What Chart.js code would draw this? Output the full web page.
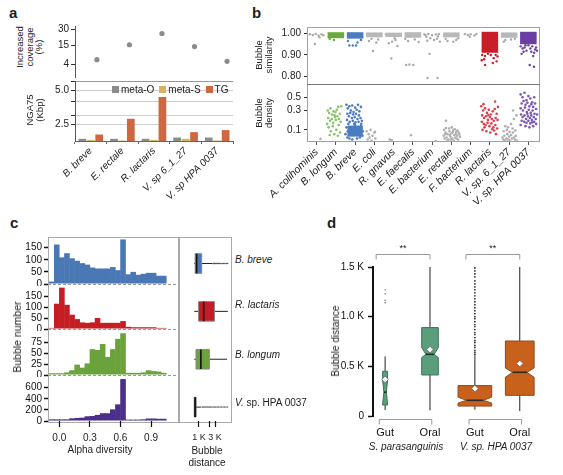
<!DOCTYPE html>
<html>
<head>
<meta charset="utf-8">
<title>Bubble statistics</title>
<script src="https://cdn.jsdelivr.net/npm/chart.js@4.4.1/dist/chart.umd.min.js"></script>
<style>
  body { margin: 0; background: #fff; }
  #fig { position: relative; width: 563px; height: 475px; overflow: hidden;
         font-family: "Liberation Sans", Arial, Helvetica, sans-serif; color: #222; }
  .t { position: absolute; z-index: 2; white-space: nowrap; font-size: 10px; line-height: 10px;
       text-align: center; transform: translate(-50%, -50%); }
  .v { transform: translate(-50%, -50%) rotate(-90deg); }
  .l { transform: translate(0, -50%); text-align: left; }
  .panel { position: absolute; font-weight: bold; font-size: 15px; line-height: 16px; }
  .frame { position: absolute; box-sizing: border-box; border: 1px solid #a0a0a0; }
  .legend { position: absolute; z-index: 2; left: 112px; top: 84px; display: flex; gap: 5px;
            font-size: 10px; line-height: 11px; }
  .legend span { display: flex; align-items: center; gap: 2px; }
  .legend i { display: inline-block; width: 7px; height: 7px; }
</style>
</head>
<body>
<div id="fig">
  <div class="panel" style="left:9px;top:5px">a</div>
  <div class="panel" style="left:252px;top:5px">b</div>
  <div class="panel" style="left:10px;top:215px">c</div>
  <div class="panel" style="left:327px;top:215px">d</div>

  <!-- a -->
  <div class="t v" style="left:29px;top:47px;line-height:9.5px;font-size:9.5px">Increased<br>coverage<br>(%)</div>
  <div class="t v" style="left:34px;top:110px;line-height:9.5px;font-size:9.5px">NGA75<br>(Kbp)</div>
  <div class="legend">
    <span><i style="background:#8c8c8c"></i>meta-O</span>
    <span><i style="background:#d6b45e"></i>meta-S</span>
    <span><i style="background:#cd6842"></i>TG</span>
  </div>

  <!-- b -->
  <div class="frame" style="left:307px;top:27px;width:233px;height:115px"></div>
  <div style="position:absolute;left:307px;top:84px;width:233px;height:1px;background:#777"></div>
  <div class="t v" style="left:263px;top:55px;line-height:9.5px;font-size:9.5px">Bubble<br>similarity</div>
  <div class="t v" style="left:263px;top:113px;line-height:9.5px;font-size:9.5px">Bubble<br>density</div>

  <!-- c -->
  <div class="frame" style="left:48px;top:237px;width:184px;height:186px;border-color:#aaa"></div>
  <div style="position:absolute;left:178px;top:237px;width:2px;height:186px;background:#aaa"></div>
  <div class="t v" style="left:17px;top:337px;font-size:10.5px">Bubble number</div>
  <div class="t" style="left:100px;top:450px">Alpha diversity</div>
  <div class="t" style="left:207px;top:456px;line-height:11.5px">Bubble<br>distance</div>
  <div class="t l" style="left:235px;top:260px"><i>B. breve</i></div>
  <div class="t l" style="left:235px;top:305px"><i>R. lactaris</i></div>
  <div class="t l" style="left:235px;top:355px"><i>B. longum</i></div>
  <div class="t l" style="left:235px;top:403px"><i>V.</i> sp. HPA 0037</div>

  <!-- d -->
  <div class="t v" style="left:336px;top:341px">Bubble distance</div>
  <div class="t" style="left:406px;top:447px"><i>S. parasanguinis</i></div>
  <div class="t" style="left:496px;top:447px"><i>V. sp. HPA 0037</i></div>
</div>

<script>
// ---------- panel a ----------
const speciesA = ['B. breve', 'E. rectale', 'R. lactaris', 'V. sp 6_1_27', 'V. sp HPA 0037'];
const coverage = [6.0, 15.6, 25.8, 14.2, 5.2];
const coverageTicks = [4, 15, 30];
const ngaMetaO = [1.88, 1.88, 1.88, 1.93, 1.93];
const ngaMetaS = [1.84, 1.82, 1.84, 1.88, 1.82];
const ngaTG = [2.05, 2.81, 4.35, 2.15, 2.24];
const ngaGrid = [2.5, 3, 4, 5, 6];
const ngaTickText = ['2.5', '', '', '5.0', ''];

// ---------- panel b ----------
const speciesB = ['A. colihominis', 'B. longum', 'B. breve', 'E. coli', 'R. gnavus', 'E. faecalis',
  'E. bacterium', 'E. rectale', 'F. bacterium', 'R. lactaris', 'V. sp. 6_1_27', 'V. sp. HPA 0037'];
const simTicks = [0.8, 0.9, 1.0];
const densTicks = [0.1, 0.3, 0.5];
// dense core of each similarity cloud
const simCoreLo = [null, 0.978, 0.976, 0.982, 0.984, 0.98, null, 0.982, null, 0.91, 0.98, 0.95];
const simCoreHi = [null, 1.006, 1.006, 1.005, 1.004, 1.006, null, 1.005, null, 1.008, 1.005, 1.008];
const simPoints = [
  [-0.35, 0.997], [-0.2, 0.993], [-0.05, 0.998], [0.1, 0.99], [0.25, 0.996], [0.35, 0.992], [-0.09, 0.951], [0.15, 0.982],
  [0.68, 0.975], [0.9, 0.97],
  [1.63, 0.965], [1.7, 0.944], [1.88, 0.944], [2.05, 0.944], [2.12, 0.958], [2.3, 0.97],
  [2.65, 0.998], [2.75, 0.992], [3.3, 0.99], [3.35, 0.998], [2.72, 0.965], [3.1, 0.958], [2.93, 0.918], [2.85, 0.975], [3.2, 0.972],
  [3.6, 0.997], [4.35, 0.993], [4.1, 0.97], [3.75, 0.955], [3.92, 0.962], [4.2, 0.942], [3.88, 0.883], [4.05, 0.978],
  [4.65, 0.853], [4.82, 0.855], [5.02, 0.853], [4.75, 0.965], [5.3, 0.96], [5.1, 0.972], [4.6, 0.975],
  [5.6, 0.996], [5.7, 0.985], [5.8, 0.998], [5.9, 0.978], [6.0, 0.992], [6.1, 0.97], [6.2, 0.996], [6.3, 0.986],
  [6.4, 0.962], [5.75, 0.966], [6.25, 0.975], [5.86, 0.905], [5.76, 0.792], [6.28, 0.792], [6.35, 0.998], [5.65, 0.993],
  [6.7, 0.975], [6.8, 0.965], [7.1, 0.962], [7.25, 0.97], [7.35, 0.978],
  [7.7, 0.998], [7.85, 0.993], [8.0, 0.997], [8.2, 0.991], [8.3, 0.998], [7.95, 0.985],
  [8.6, 0.9], [8.75, 0.895], [9.3, 0.9], [9.4, 0.893], [8.7, 0.88], [9.2, 0.885], [8.58, 0.875], [9.35, 0.87],
  [8.9, 0.905], [9.05, 0.9], [8.75, 0.853], [9.15, 0.862],
  [9.8, 0.97], [10.1, 0.972], [9.72, 0.962], [10.3, 0.975],
  [10.6, 0.94], [10.7, 0.93], [10.8, 0.935], [10.9, 0.92], [11.0, 0.945], [11.1, 0.93], [11.2, 0.94], [11.35, 0.925],
  [11.4, 0.935], [10.75, 0.915], [11.3, 0.91], [10.65, 0.905], [11.45, 0.92], [11.25, 0.895], [11.07, 0.853],
  [11.29, 0.845], [10.85, 0.945], [11.15, 0.915]
];
const densCoreLo = [null, null, 0.055, null, null, null, null, null, null, null, null, null];
const densCoreHi = [null, null, 0.135, null, null, null, null, null, null, null, null, null];
const densPoints = [
  [0.2, 0.043],
  [0.58, 0.30], [0.65, 0.27], [0.72, 0.33], [0.80, 0.25], [0.88, 0.29], [0.95, 0.22], [1.05, 0.31], [1.12, 0.35],
  [1.2, 0.26], [1.28, 0.36], [0.6, 0.21], [0.7, 0.18], [0.78, 0.2], [0.86, 0.16], [0.93, 0.24], [1.0, 0.19],
  [1.08, 0.23], [1.16, 0.2], [1.25, 0.17], [0.62, 0.12], [0.74, 0.09], [0.84, 0.13], [0.92, 0.07], [1.02, 0.1],
  [1.1, 0.06], [1.22, 0.08], [0.68, 0.065], [1.15, 0.14], [0.98, 0.28], [0.55, 0.15],
  [1.55, 0.38], [1.62, 0.33], [1.7, 0.36], [1.78, 0.3], [1.85, 0.37], [1.92, 0.28], [2.0, 0.34], [2.08, 0.31],
  [2.15, 0.38], [2.22, 0.29], [2.3, 0.35], [1.6, 0.26], [1.68, 0.23], [1.75, 0.27], [1.83, 0.21], [1.9, 0.25],
  [1.98, 0.22], [2.05, 0.26], [2.12, 0.2], [2.2, 0.24], [2.28, 0.21], [2.35, 0.18], [1.58, 0.19], [1.72, 0.17],
  [1.88, 0.18], [2.02, 0.165], [2.18, 0.17], [2.32, 0.15], [1.65, 0.15], [1.95, 0.15],
  [1.55, 0.12], [1.6, 0.05], [2.4, 0.09], [2.38, 0.06], [1.7, 0.045], [2.1, 0.045], [2.25, 0.05], [1.85, 0.04],
  [2.0, 0.14], [2.3, 0.13], [1.62, 0.09], [1.5, 0.07],
  [2.6, 0.09], [2.7, 0.07], [2.8, 0.1], [2.75, 0.05], [2.9, 0.06], [3.0, 0.08], [3.05, 0.045], [2.65, 0.04],
  [2.85, 0.035], [3.03, 0.085],
  [3.8, 0.04], [3.85, 0.033], [3.9, 0.036], [4.9, 0.063], [6.2, 0.033],
  [6.6, 0.06], [6.65, 0.045], [6.7, 0.08], [6.75, 0.05], [6.8, 0.07], [6.85, 0.04], [6.9, 0.09], [6.95, 0.055],
  [7.0, 0.075], [7.05, 0.045], [7.1, 0.1], [7.15, 0.065], [7.2, 0.05], [7.25, 0.085], [7.3, 0.06], [7.35, 0.04],
  [7.4, 0.07], [7.45, 0.055], [6.62, 0.1], [6.72, 0.115], [6.88, 0.11], [7.02, 0.12], [7.18, 0.105], [7.32, 0.095],
  [6.72, 0.18], [6.78, 0.035], [7.12, 0.035], [6.98, 0.04], [7.28, 0.045], [6.92, 0.065], [7.08, 0.085],
  [7.22, 0.07], [6.68, 0.07], [7.38, 0.08],
  [8.55, 0.36], [8.65, 0.3], [8.75, 0.33], [8.85, 0.27], [8.95, 0.31], [9.05, 0.25], [9.15, 0.29], [9.25, 0.32],
  [9.35, 0.26], [9.42, 0.35], [8.6, 0.24], [8.7, 0.21], [8.8, 0.23], [8.9, 0.19], [9.0, 0.22], [9.1, 0.2],
  [9.2, 0.18], [9.3, 0.21], [9.4, 0.19], [8.58, 0.17], [8.68, 0.15], [8.78, 0.14], [8.88, 0.16], [8.98, 0.13],
  [9.08, 0.155], [9.18, 0.12], [9.28, 0.14], [9.38, 0.11], [8.62, 0.1], [8.82, 0.09], [9.02, 0.08], [9.22, 0.095],
  [9.32, 0.07], [8.72, 0.12], [9.12, 0.105], [8.92, 0.245], [8.67, 0.39], [9.27, 0.43],
  [9.65, 0.05], [9.7, 0.04], [9.75, 0.06], [9.8, 0.035], [9.85, 0.045], [9.9, 0.07], [9.95, 0.04], [10.0, 0.055],
  [10.05, 0.035], [10.1, 0.065], [10.15, 0.045], [10.2, 0.08], [10.25, 0.05], [10.3, 0.04], [10.35, 0.06],
  [10.4, 0.035], [9.72, 0.09], [9.88, 0.1], [10.02, 0.085], [10.18, 0.11], [10.32, 0.095], [9.8, 0.13],
  [10.1, 0.15], [10.25, 0.2], [10.38, 0.24], [10.2, 0.3], [9.95, 0.12],
  [10.6, 0.55], [10.7, 0.5], [10.8, 0.58], [10.9, 0.45], [11.0, 0.52], [11.1, 0.48], [11.2, 0.42], [11.3, 0.5],
  [10.65, 0.4], [10.75, 0.44], [10.85, 0.38], [10.95, 0.41], [11.05, 0.36], [11.15, 0.39], [11.25, 0.35],
  [11.35, 0.4], [10.6, 0.33], [10.72, 0.3], [10.82, 0.34], [10.92, 0.28], [11.02, 0.31], [11.12, 0.27],
  [11.22, 0.3], [11.32, 0.26], [11.4, 0.32], [10.62, 0.25], [10.7, 0.22], [10.8, 0.24], [10.88, 0.2],
  [10.98, 0.23], [11.08, 0.21], [11.18, 0.19], [11.28, 0.22], [11.38, 0.2], [10.65, 0.18], [10.78, 0.17],
  [10.9, 0.16], [11.0, 0.18], [11.1, 0.155], [11.2, 0.165], [11.3, 0.17], [11.4, 0.15], [10.85, 0.13],
  [11.05, 0.12], [11.25, 0.13], [10.6, 0.14], [11.45, 0.25], [10.95, 0.26], [11.15, 0.24]
];

// ---------- panel c ----------
const binCenters = [-0.075, -0.025, 0.025, 0.075, 0.125, 0.175, 0.225, 0.275, 0.325, 0.375, 0.425, 0.475,
  0.525, 0.575, 0.625, 0.675, 0.725, 0.775, 0.825, 0.875, 0.925, 0.975, 1.025];
const histBreve = [10, 163, 110, 127, 106, 96, 86, 80, 68, 64, 64, 64, 70, 57, 184, 40, 50, 38, 42, 46, 46, 34, 34];
const histLactaris = [5, 115, 188, 110, 65, 45, 30, 28, 30, 50, 28, 28, 28, 28, 36, 10, 8, 8, 8, 8, 8, 5, 5];
const histLongum = [4, 4, 4, 6, 11, 24, 17, 27, 60, 58, 72, 42, 60, 84, 97, 5, 5, 5, 6, 11, 9, 8, 5];
const histHpa = [30, 30, 30, 30, 48, 55, 60, 85, 90, 110, 140, 140, 210, 300, 755, 25, 25, 25, 30, 45, 45, 40, 40];
const alphaTicks = [0, 0.3, 0.6, 0.9];
const distTicks = [1000, 2000, 3000];
const distTickText = ['1 K', '', '3 K'];
const cRows = [0, 1, 2, 3]; // B. breve, R. lactaris, B. longum, V. sp. HPA 0037
const cLo = [732, 732, 732, 720];
const cQ1 = [775, 977, 822, 732];
const cMed = [855, 1383, 1142, 775];
const cQ3 = [1210, 2880, 2037, 822];
const cHi = [2470, 7140, 6740, 1150];
const cOutBreve = [2600, 2750, 2900, 3100, 3300, 3550, 3800, 4100, 4450, 4850, 5300, 5800, 6400, 7000];
const cOutHpa = [1250, 1330, 1420, 1520, 1630, 1750, 1880, 2030, 2200, 2400, 2620, 2870, 3150, 3460, 3800,
  4200, 4650, 5150, 5700, 6300, 7000];

// ---------- panel d ----------
const dTicks = ['Gut', 'Oral', 'Gut', 'Oral'];
const dPos = [0, 1, 2, 3];
const dLo = [0.06, 0.057, 0.064, 0.05];
const dQ1 = [0.11, 0.413, 0.10, 0.208];
const dMed = [0.24, 0.621, 0.158, 0.44];
const dQ3 = [0.45, 0.89, 0.306, 0.755];
const dHi = [0.60, 1.50, 0.61, 1.50];
const dNotchLo = [0.12, 0.588, 0.13, 0.39];
const dNotchHi = [0.36, 0.689, 0.19, 0.483];
const dMean = [0.367, 0.669, 0.276, 0.528];
const dOutSGut = [1.14, 1.165, 1.23, 1.27];
const dOutVGut = [0.62, 0.64, 0.66, 0.69, 0.71, 0.74, 0.76, 0.79, 0.82, 0.84, 0.87, 0.9, 0.92, 0.95, 0.98, 1.0,
  1.03, 1.06, 1.09, 1.12, 1.15, 1.18, 1.21, 1.24, 1.27, 1.3, 1.33, 1.36, 1.4, 1.43, 1.46, 1.49];

// ---------- colours ----------
const gray = '#a8a8a8';
const coreGray = '#b8b8b8';
const simColors = [gray, '#6aaa3a', '#4a7cbf', gray, gray, gray, gray, gray, gray, '#c81e28', gray, '#6a3fa3'];
const coreColors = [coreGray, '#6aaa3a', '#4a7cbf', coreGray, coreGray, coreGray, coreGray, coreGray, coreGray,
  '#c81e28', coreGray, '#6a3fa3'];
const densColors = ['#b0b0b0', '#8cc06c', '#4a7cbf', '#b0b0b0', '#b0b0b0', '#b0b0b0', '#b0b0b0', '#b0b0b0',
  '#b0b0b0', '#d9424c', '#b0b0b0', '#7a58b6'];
const cColors = ['#4a78b5', '#c41e24', '#6aa33c', '#4b2f8a'];

Chart.defaults.font.family = '"Liberation Sans", Arial, Helvetica, sans-serif';
Chart.defaults.font.size = 10;
Chart.defaults.color = '#222';

// square-root scale (used for coverage and bubble density)
const LinearScale = Chart.registry.getScale('linear');
class SqrtScale extends LinearScale {
  getPixelForValue(v) {
    const a = Math.sqrt(this.min), b = Math.sqrt(this.max);
    return this.getPixelForDecimal((Math.sqrt(v) - a) / (b - a));
  }
  getValueForPixel(p) {
    const a = Math.sqrt(this.min), b = Math.sqrt(this.max);
    const s = a + this.getDecimalForPixel(p) * (b - a);
    return s * s;
  }
}
SqrtScale.id = 'sqrt';
SqrtScale.defaults = LinearScale.defaults;

// box plots drawn through the chart scales
const boxPlugin = {
  id: 'boxes',
  beforeDatasetsDraw(chart, args, o) {
    if (!o.pos) return;
    const { ctx, scales } = chart;
    const vs = o.horizontal ? scales.x : scales.y;
    const ps = o.horizontal ? scales.y : scales.x;
    const pt = (p, v) => o.horizontal
      ? [vs.getPixelForValue(v), ps.getPixelForValue(p)]
      : [ps.getPixelForValue(p), vs.getPixelForValue(v)];
    const path = pts => {
      ctx.beginPath();
      pts.forEach(([p, v], k) => { const [px, py] = pt(p, v); k ? ctx.lineTo(px, py) : ctx.moveTo(px, py); });
    };
    ctx.save();
    o.pos.forEach((p, i) => {
      const hw = o.widths[i] / 2;
      const nw = o.notchLo ? hw * o.notchRatio : hw;
      ctx.strokeStyle = o.whisker; ctx.lineWidth = 1;
      path([[p, o.lo[i]], [p, o.q1[i]]]); ctx.stroke();
      path([[p, o.q3[i]], [p, o.hi[i]]]); ctx.stroke();
      const outline = o.notchLo
        ? [[p - hw, o.q1[i]], [p - hw, o.notchLo[i]], [p - nw, o.med[i]], [p - hw, o.notchHi[i]], [p - hw, o.q3[i]],
           [p + hw, o.q3[i]], [p + hw, o.notchHi[i]], [p + nw, o.med[i]], [p + hw, o.notchLo[i]], [p + hw, o.q1[i]]]
        : [[p - hw, o.q1[i]], [p - hw, o.q3[i]], [p + hw, o.q3[i]], [p + hw, o.q1[i]]];
      path(outline); ctx.closePath();
      ctx.fillStyle = o.fill[i]; ctx.fill();
      ctx.strokeStyle = o.stroke[i]; ctx.lineWidth = 1; ctx.stroke();
      ctx.strokeStyle = o.median; ctx.lineWidth = 1.6;
      path([[p - nw, o.med[i]], [p + nw, o.med[i]]]); ctx.stroke();
    });
    ctx.restore();
  }
};

// dashed separator under a histogram
const dashPlugin = {
  id: 'baseDash',
  afterDatasetsDraw(chart, args, o) {
    if (!o.color) return;
    const { ctx, chartArea: a } = chart;
    ctx.save();
    ctx.strokeStyle = o.color; ctx.lineWidth = 1; ctx.setLineDash([3, 2]);
    ctx.beginPath(); ctx.moveTo(a.left, a.bottom + 0.5); ctx.lineTo(a.right, a.bottom + 0.5); ctx.stroke();
    ctx.restore();
  }
};

// group brackets + significance stars
const bracketPlugin = {
  id: 'brackets',
  afterDraw(chart, args, o) {
    if (!o.pairs) return;
    const { ctx, chartArea: area, scales: { x } } = chart;
    ctx.save();
    ctx.strokeStyle = o.color; ctx.lineWidth = 1;
    ctx.fillStyle = '#222'; ctx.font = '9px "Liberation Sans", Arial, sans-serif';
    ctx.textAlign = 'center'; ctx.textBaseline = 'middle';
    o.pairs.forEach(([a, b], k) => {
      let x0 = x.getPixelForValue(a - 0.2), x1 = x.getPixelForValue(b);
      const yt = area.top - 12.5;
      ctx.beginPath(); ctx.moveTo(x0, yt + 5); ctx.lineTo(x0, yt); ctx.lineTo(x1, yt); ctx.lineTo(x1, yt + 5); ctx.stroke();
      ctx.fillText(o.labels[k], (x0 + x1) / 2, yt - 6);
      x0 = x.getPixelForValue(a - 0.13); x1 = x.getPixelForValue(b + 0.04);
      const yb = area.bottom + 3.5;
      ctx.beginPath(); ctx.moveTo(x0, yb + 5); ctx.lineTo(x0, yb); ctx.lineTo(x1, yb); ctx.lineTo(x1, yb + 5); ctx.stroke();
    });
    ctx.restore();
  }
};

Chart.register(SqrtScale, boxPlugin, dashPlugin, bracketPlugin);

const fitY = w => s => { s.width = w; s.paddingTop = 0; s.paddingBottom = 0; };
const fitX = h => s => { s.height = h; s.paddingLeft = 0; s.paddingRight = 0; };
const setTicks = list => s => { s.ticks = list.map(v => ({ value: v })); };

function makeCanvas(left, top, width, height) {
  const c = document.createElement('canvas');
  c.width = width; c.height = height;
  c.style.cssText = `position:absolute;left:${left}px;top:${top}px;width:${width}px;height:${height}px`;
  document.getElementById('fig').appendChild(c);
  return c;
}

function baseOptions(padding, extra) {
  return Object.assign({
    responsive: false, animation: false, events: [],
    layout: { padding },
    plugins: { legend: { display: false }, tooltip: { enabled: false } }
  }, extra);
}

const tickGrid = { drawOnChartArea: false, tickLength: 4, tickColor: '#333', color: '#333' };

// ---- a: increased coverage ----
new Chart(makeCanvas(45, 22, 191, 59), {
  type: 'scatter',
  data: { datasets: [{ data: coverage.map((v, i) => ({ x: i, y: v })), pointRadius: 2.6,
    backgroundColor: '#8c8c8c', borderWidth: 0, clip: false }] },
  options: baseOptions({ top: 3, right: 3, bottom: 0, left: 0 }, {
    scales: {
      x: { type: 'linear', display: false, offset: false, min: -0.672, max: 4.152 },
      y: { type: 'sqrt', min: 0.5, max: 34, afterFit: fitY(30), afterBuildTicks: setTicks(coverageTicks),
        grid: tickGrid, border: { color: '#555' }, ticks: { padding: 2, autoSkip: false } }
    }
  })
});

// ---- a: NGA75 bars ----
new Chart(makeCanvas(45, 80, 191, 123), {
  type: 'bar',
  data: { labels: speciesA, datasets: [
    { label: 'meta-O', data: ngaMetaO, backgroundColor: '#8c8c8c' },
    { label: 'meta-S', data: ngaMetaS, backgroundColor: '#d6b45e' },
    { label: 'TG', data: ngaTG, backgroundColor: '#cd6842' }
  ] },
  options: baseOptions({ top: 1, right: 3, bottom: 0, left: 0 }, {
    datasets: { bar: { categoryPercentage: 0.8, barPercentage: 0.92 } },
    scales: {
      x: { afterFit: fitX(62), grid: { drawOnChartArea: false, tickLength: 3, color: '#666' },
        border: { color: '#666' },
        ticks: { minRotation: 45, maxRotation: 45, autoSkip: false, padding: 1, font: { style: 'italic' } } },
      y: { type: 'logarithmic', min: 1.8, max: 6, afterFit: fitY(30), afterBuildTicks: setTicks(ngaGrid),
        grid: { color: c => (c.tick && c.tick.value === 6 ? '#999' : '#cfcfcf'), tickLength: 4, tickColor: '#333' },
        border: { color: '#555' },
        ticks: { padding: 2, autoSkip: false, callback: (v, i) => ngaTickText[i] } }
    }
  })
});

// ---- b: bubble similarity ----
new Chart(makeCanvas(267, 25, 275, 59), {
  type: 'scatter',
  data: { datasets: [
    { type: 'bar', data: simCoreLo.map((lo, i) => ({ x: i, y: lo === null ? null : [lo, simCoreHi[i]] })),
      backgroundColor: coreColors, barPercentage: 0.86, categoryPercentage: 1, clip: false },
    { data: simPoints.map(([x, y]) => ({ x, y })), pointRadius: 1.2, borderWidth: 0,
      backgroundColor: simPoints.map(([x]) => simColors[Math.round(x)]), clip: false }
  ] },
  options: baseOptions({ top: 2, right: 2, bottom: 0, left: 0 }, {
    scales: {
      x: { type: 'linear', display: false, offset: false, grid: { offset: false }, min: -0.5, max: 11.5 },
      y: { min: 0.783, max: 1.021, afterFit: fitY(40), afterBuildTicks: setTicks(simTicks),
        grid: { drawOnChartArea: false, tickLength: 3, tickColor: '#333' }, border: { display: false },
        ticks: { padding: 3, autoSkip: false, callback: v => v.toFixed(2) } }
    }
  })
});

// ---- b: bubble density ----
new Chart(makeCanvas(267, 84, 275, 120), {
  type: 'scatter',
  data: { datasets: [
    { type: 'bar', data: densCoreLo.map((lo, i) => ({ x: i, y: lo === null ? null : [lo, densCoreHi[i]] })),
      backgroundColor: densColors, barPercentage: 0.8, categoryPercentage: 1, clip: false },
    { data: densPoints.map(([x, y]) => ({ x, y })), pointRadius: 1.3, borderWidth: 0,
      backgroundColor: densPoints.map(([x]) => densColors[Math.round(x)]), clip: false }
  ] },
  options: baseOptions({ top: 0, right: 2, bottom: 0, left: 0 }, {
    scales: {
      x: { type: 'linear', min: -0.5, max: 11.5, offset: false, afterFit: fitX(62),
        afterBuildTicks: setTicks(speciesB.map((_, i) => i)),
        grid: { drawOnChartArea: false, offset: false, tickLength: 3, tickColor: '#555' }, border: { display: false },
        ticks: { minRotation: 45, maxRotation: 45, autoSkip: false, padding: 1,
          font: { style: 'italic', size: 10.5 }, callback: v => speciesB[v] } },
      y: { type: 'sqrt', min: 0.029, max: 0.67, afterFit: fitY(40), afterBuildTicks: setTicks(densTicks),
        grid: { drawOnChartArea: false, tickLength: 3, tickColor: '#333' }, border: { display: false },
        ticks: { padding: 3, autoSkip: false, callback: v => v.toFixed(1) } }
    }
  })
});

// ---- c: alpha diversity histograms ----
function histogram(top, height, counts, color, yMax, yTicks, last) {
  new Chart(makeCanvas(20, top, 159, height), {
    type: 'bar',
    data: { datasets: [{ data: counts.map((v, i) => ({ x: binCenters[i], y: v })), backgroundColor: color,
      borderWidth: 0, barPercentage: 1.1, categoryPercentage: 1, clip: false }] },
    options: baseOptions({ top: 0, right: 0, bottom: last ? 0 : 2, left: 0 }, {
      plugins: { legend: { display: false }, tooltip: { enabled: false },
        baseDash: last ? {} : { color: '#9a9a9a' } },
      scales: {
        x: { type: 'linear', min: -0.111, max: 1.174, offset: false, display: last,
          afterFit: fitX(last ? 30 : 0), afterBuildTicks: setTicks(alphaTicks),
          grid: { drawOnChartArea: false, offset: false, tickLength: 6, tickColor: '#111', tickWidth: 1.2 },
          border: { display: false },
          ticks: { padding: 5, maxRotation: 0, autoSkip: false, callback: v => v.toFixed(1) } },
        y: { min: 0, max: yMax, afterFit: fitY(28), afterBuildTicks: setTicks(yTicks),
          grid: { drawOnChartArea: false, tickLength: 4, tickColor: '#111', tickWidth: 1.5 },
          border: { display: false }, ticks: { padding: 2, color: '#111', autoSkip: false } }
      }
    })
  });
}
histogram(237, 49, histBreve, cColors[0], 194, [0, 50, 100, 150], false);
histogram(285, 46, histLactaris, cColors[1], 200, [0, 50, 100, 150], false);
histogram(330, 47, histLongum, cColors[2], 104.5, [0, 25, 50, 75], false);
histogram(376, 75, histHpa, cColors[3], 811, [0, 200, 400, 600], true);

// ---- c: bubble distance boxes ----
new Chart(makeCanvas(179, 237, 53, 214), {
  type: 'scatter',
  data: { datasets: [
    { data: cOutBreve.map(v => ({ x: v, y: cRows[0] })), pointRadius: 0.8, borderWidth: 0,
      backgroundColor: '#555', clip: false },
    { data: cOutHpa.map(v => ({ x: v, y: cRows[3] })), pointRadius: 0.8, borderWidth: 0,
      backgroundColor: '#777', clip: false }
  ] },
  options: baseOptions({ top: 0, right: 0, bottom: 0, left: 0 }, {
    plugins: { legend: { display: false }, tooltip: { enabled: false },
      boxes: { horizontal: true, pos: cRows, lo: cLo, q1: cQ1, med: cMed, q3: cQ3, hi: cHi,
        widths: [0.41, 0.41, 0.41, 0.41], fill: cColors, stroke: ['#8a8a8a', '#8a8a8a', '#8a8a8a', '#555'],
        whisker: '#222', median: '#111' } },
    scales: {
      x: { type: 'logarithmic', min: 340, max: 7200, afterFit: fitX(30), afterBuildTicks: setTicks(distTicks),
        grid: { drawOnChartArea: false, tickLength: 6, tickColor: '#111', tickWidth: 1.2 }, border: { display: false },
        ticks: { padding: 5, minRotation: 0, maxRotation: 0, autoSkip: false, font: { size: 9 },
          callback: (v, i) => distTickText[i] } },
      y: { type: 'linear', display: false, reverse: true, min: -0.47, max: 3.29 }
    }
  })
});

// ---- d: bubble distance, gut vs oral ----
new Chart(makeCanvas(335, 240, 212, 206), {
  type: 'scatter',
  data: { datasets: [
    { data: dOutSGut.map(v => ({ x: dPos[0], y: v })), pointRadius: 0.7, borderWidth: 0,
      backgroundColor: '#666', clip: false },
    { data: dOutVGut.map(v => ({ x: dPos[2], y: v })), pointRadius: 0.9, borderWidth: 0,
      backgroundColor: '#333', clip: false },
    { data: dMean.map((v, i) => ({ x: dPos[i], y: v })), pointStyle: 'rectRot', pointRadius: 3.3,
      backgroundColor: '#fff', borderColor: '#666', borderWidth: 0.8, clip: false }
  ] },
  options: baseOptions({ top: 27, right: 2, bottom: 0, left: 0 }, {
    plugins: { legend: { display: false }, tooltip: { enabled: false },
      boxes: { pos: dPos, lo: dLo, q1: dQ1, med: dMed, q3: dQ3, hi: dHi, notchLo: dNotchLo, notchHi: dNotchHi,
        notchRatio: 0.5, widths: [0.11, 0.37, 0.75, 0.64],
        fill: ['#5b9e7b', '#5b9e7b', '#c8611c', '#c8611c'], stroke: ['#3e7358', '#3e7358', '#8f4a1e', '#8f4a1e'],
        whisker: '#222', median: '#2a2a2a' },
      brackets: { pairs: [[0, 1], [2, 3]], labels: ['**', '**'], color: '#999' } },
    scales: {
      x: { type: 'linear', min: -0.27, max: 3.5, afterFit: fitX(30), afterBuildTicks: setTicks(dPos),
        grid: { display: false, drawTicks: false }, border: { display: false },
        ticks: { padding: 10, color: '#111', autoSkip: false, font: { size: 11 }, callback: v => dTicks[v] } },
      y: { min: 0, max: 1.5, afterFit: fitY(38), afterBuildTicks: setTicks([0, 0.5, 1, 1.5]),
        grid: { drawOnChartArea: false, tickLength: 5, tickColor: '#111', tickWidth: 1.5 },
        border: { color: '#111', width: 2 },
        ticks: { padding: 4, color: '#111', autoSkip: false,
          callback: v => (v === 0 ? '0' : v.toFixed(1) + ' K') } }
    }
  })
});
</script>
</body>
</html>
